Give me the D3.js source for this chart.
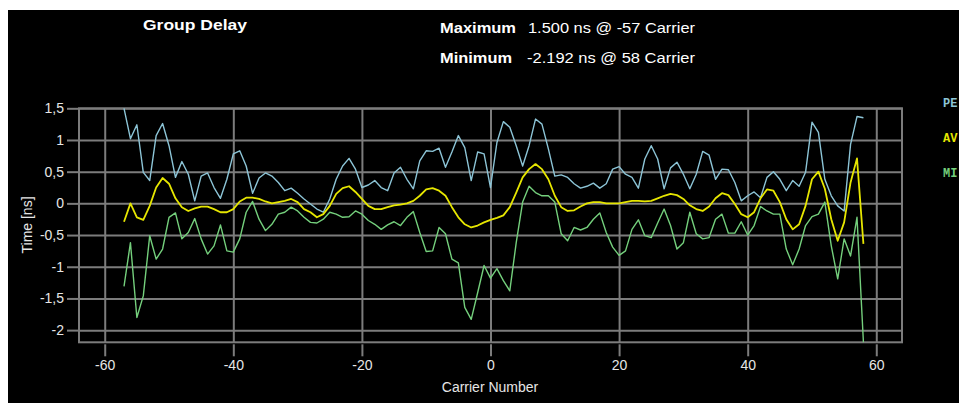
<!DOCTYPE html>
<html><head><meta charset="utf-8">
<script src="https://cdn.jsdelivr.net/npm/d3@7/dist/d3.min.js"></script>
<style>html,body{margin:0;padding:0;background:#fff;overflow:hidden}svg{display:block}</style>
</head><body><svg id="chart" width="959" height="403"></svg>
<script>
// ---- data ----
const carriers = d3.range(-57, 59); // -57 .. 58
const peak = [1.50,1.02,1.24,0.49,0.36,1.07,1.26,0.91,0.41,0.66,0.46,0.04,0.43,0.48,0.25,0.08,0.38,0.78,0.83,0.59,
  0.16,0.40,0.48,0.43,0.33,0.20,0.24,0.16,0.07,-0.01,-0.09,-0.14,0.07,0.38,0.59,0.71,0.54,0.25,0.29,0.36,
  0.25,0.20,0.48,0.57,0.38,0.23,0.67,0.83,0.82,0.87,0.57,0.81,1.07,0.88,0.36,0.81,0.78,0.25,0.96,1.29,
  1.20,0.91,0.59,0.91,1.33,1.25,0.86,0.43,0.45,0.41,0.31,0.24,0.27,0.32,0.24,0.31,0.54,0.58,0.46,0.41,
  0.24,0.70,0.91,0.70,0.23,0.56,0.65,0.46,0.23,0.46,0.82,0.76,0.38,0.54,0.53,0.33,0.04,0.12,0.18,0.09,
  0.41,0.50,0.38,0.20,0.36,0.27,0.49,1.28,1.12,0.38,0.12,-0.04,-0.12,0.93,1.37,1.35];
const average = [-0.29,0.00,-0.22,-0.26,-0.04,0.25,0.40,0.31,0.08,-0.06,-0.12,-0.08,-0.05,-0.05,-0.09,-0.14,-0.14,-0.09,0.03,0.09,
  0.09,0.07,0.03,0.00,0.02,0.04,0.07,0.02,-0.09,-0.14,-0.22,-0.17,-0.04,0.15,0.24,0.27,0.18,0.07,-0.04,-0.09,
  -0.09,-0.06,-0.03,-0.02,0.00,0.04,0.12,0.22,0.24,0.20,0.12,-0.06,-0.22,-0.33,-0.38,-0.35,-0.30,-0.26,-0.23,-0.19,
  -0.06,0.17,0.41,0.54,0.62,0.54,0.38,0.12,-0.06,-0.12,-0.11,-0.05,0.00,0.02,0.02,0.00,0.00,0.00,0.02,0.04,
  0.04,0.03,0.04,0.08,0.12,0.15,0.13,0.07,-0.03,-0.09,-0.12,-0.05,0.08,0.16,0.13,-0.01,-0.17,-0.22,-0.14,0.08,
  0.22,0.20,0.02,-0.25,-0.41,-0.33,-0.04,0.38,0.50,0.23,-0.25,-0.59,-0.30,0.33,0.71,-0.64];
const minimum = [-1.31,-0.62,-1.80,-1.46,-0.51,-0.88,-0.72,-0.22,-0.15,-0.56,-0.46,-0.24,-0.56,-0.80,-0.67,-0.34,-0.75,-0.77,-0.56,-0.14,
  0.03,-0.25,-0.43,-0.33,-0.17,-0.14,-0.06,-0.12,-0.22,-0.30,-0.31,-0.25,-0.14,-0.17,-0.22,-0.21,-0.12,-0.17,-0.27,-0.33,
  -0.41,-0.34,-0.29,-0.35,-0.22,-0.13,-0.46,-0.76,-0.75,-0.38,-0.48,-0.88,-0.94,-1.64,-1.83,-1.41,-0.98,-1.18,-1.03,-1.22,
  -1.38,-0.62,0.02,0.27,0.17,0.12,0.12,0.02,-0.48,-0.59,-0.38,-0.42,-0.38,-0.25,-0.15,-0.46,-0.69,-0.82,-0.75,-0.41,
  -0.26,-0.51,-0.54,-0.31,-0.09,-0.35,-0.72,-0.62,-0.14,-0.48,-0.56,-0.54,-0.25,-0.17,-0.47,-0.47,-0.29,-0.50,-0.35,-0.05,
  -0.12,-0.17,-0.17,-0.72,-0.97,-0.72,-0.35,-0.21,-0.17,0.02,-0.67,-1.19,-0.56,-0.83,-0.22,-2.192];
const xTicks = [-60, -40, -20, 0, 20, 40, 60];
const yTicks = [1.5, 1, 0.5, 0, -0.5, -1, -1.5, -2];
const seriesNames = ["PE", "AV", "MI"]; // legend as visible (cut at window edge in the reference)
const seriesColors = ["#8cc4d6", "#e6e600", "#74cf7c"];

// ---- layout ----
const svg = d3.select("#chart");
svg.append("rect").attr("x", 8).attr("y", 10).attr("width", 951).attr("height", 393).attr("fill", "#000");

const L = 79, R = 902, T = 108.3, B = 342.3;
const x = d3.scaleLinear().domain([-64, 64]).range([L, R]);
const y = d3.scaleLinear().domain([-2.192, 1.5]).range([B, T]);
const grid = "#7c7c7c", txt = "#e6e6e6";
const font = "'Liberation Sans', Arial, sans-serif";
const fmt = v => String(v).replace(".", ",");

// grid
const gy = svg.append("g").attr("transform", `translate(${L},0)`)
  .call(d3.axisLeft(y).tickValues(yTicks).tickSize(-(R - L)).tickFormat(""));
const gx = svg.append("g").attr("transform", `translate(0,${B})`)
  .call(d3.axisBottom(x).tickValues(xTicks).tickSize(-(B - T)).tickFormat(""));
[gy, gx].forEach(g => { g.select(".domain").remove(); g.selectAll("line").attr("stroke", grid).attr("stroke-width", 2); });

// frame
svg.append("rect").attr("x", L).attr("y", T).attr("width", R - L).attr("height", B - T)
  .attr("fill", "none").attr("stroke", grid).attr("stroke-width", 2);

// axes with labels
const ay = svg.append("g").attr("transform", `translate(${L},0)`)
  .call(d3.axisLeft(y).tickValues(yTicks).tickSize(12).tickPadding(3).tickFormat(fmt));
const ax = svg.append("g").attr("transform", `translate(0,${B + 2})`)
  .call(d3.axisBottom(x).tickValues(xTicks).tickSize(12).tickPadding(4).tickFormat(d => d));
[ay, ax].forEach(g => {
  g.select(".domain").remove();
  g.selectAll("line").attr("stroke", grid).attr("stroke-width", 2);
  g.selectAll("text").attr("fill", txt).attr("font-family", font).attr("font-size", 14);
});

// series
const clipId = "plotclip";
svg.append("clipPath").attr("id", clipId).append("rect")
  .attr("x", L).attr("y", T - 1).attr("width", R - L).attr("height", B - T + 2);
const seriesData = [peak, average, minimum];
seriesData.forEach((vals, i) => {
  const line = d3.line().x((d, j) => x(carriers[j])).y(d => y(d));
  svg.append("path").datum(vals).attr("d", line)
    .attr("fill", "none").attr("stroke", seriesColors[i])
    .attr("stroke-width", i === 1 ? 1.8 : 1.4).attr("stroke-linejoin", "round")
    .attr("clip-path", `url(#${clipId})`);
});

// axis titles
svg.append("text").attr("x", 490).attr("y", 392).attr("text-anchor", "middle")
  .attr("fill", txt).attr("font-family", font).attr("font-size", 14).text("Carrier Number");
svg.append("text").attr("transform", "translate(32,225) rotate(-90)").attr("text-anchor", "middle")
  .attr("fill", txt).attr("font-family", font).attr("font-size", 14).text("Time [ns]");

// header
const head = (t, xx, yy, w, bold) => svg.append("text").attr("x", xx).attr("y", yy)
  .attr("fill", "#fff").attr("font-family", font).attr("font-size", 15)
  .attr("font-weight", bold ? "bold" : "normal")
  .attr("textLength", w).attr("lengthAdjust", "spacingAndGlyphs").text(t);
head("Group Delay", 143, 30, 104, true);
head("Maximum", 440, 33, 76, true);
head("1.500 ns @ -57 Carrier", 528, 33, 167, false);
head("Minimum", 440, 63, 72, true);
head("-2.192 ns @ 58 Carrier", 527, 63, 168, false);

// legend
const legendY = [107, 142, 177];
seriesNames.forEach((n, i) => {
  svg.append("text").attr("x", 943).attr("y", legendY[i])
    .attr("fill", seriesColors[i]).attr("font-family", "'Liberation Mono', 'DejaVu Sans Mono', monospace")
    .attr("font-weight", "bold").attr("font-size", 12).text(n);
});
</script></body></html>
